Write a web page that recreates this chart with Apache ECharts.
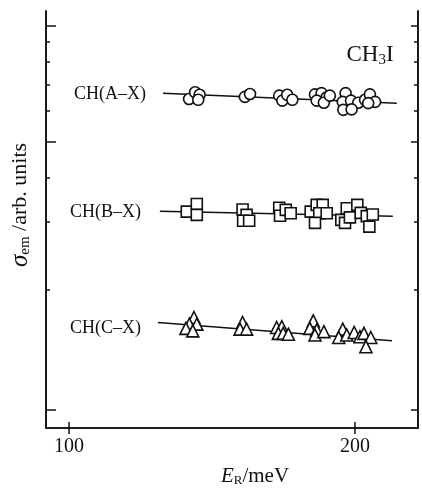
<!DOCTYPE html>
<html>
<head>
<meta charset="utf-8">
<script src="https://cdn.jsdelivr.net/npm/echarts@6/dist/echarts.min.js"></script>
<style>
  html, body { margin: 0; padding: 0; background: #fff; }
  #chart { width: 422px; height: 492px; }
</style>
</head>
<body>
<div id="chart"></div>
<script>
  // E_R (meV), sigma_em (arb. units)
  var pointsAX = [
    [142.0, 78.9], [144.1, 80.5], [145.7, 79.9], [145.2, 78.7],
    [161.5, 79.4], [163.3, 80.1],
    [173.5, 79.7], [174.6, 78.5], [176.3, 79.9], [178.1, 78.7],
    [186.0, 80.0], [188.3, 80.3], [190.1, 79.3], [186.6, 78.5], [189.1, 78.0], [191.2, 79.7],
    [196.7, 80.3], [195.7, 78.2], [198.6, 78.5], [201.1, 78.0], [203.5, 78.7],
    [195.9, 76.3], [198.8, 76.4], [205.2, 80.0], [207.0, 78.2], [204.6, 77.9]
  ];
  var pointsBX = [
    [141.2, 51.9], [144.7, 53.7], [144.7, 51.1],
    [160.7, 52.4], [162.1, 51.1], [160.9, 49.7], [163.0, 49.7],
    [173.5, 52.8], [173.8, 50.9], [175.8, 52.3], [177.5, 51.5],
    [184.5, 51.9], [186.6, 53.5], [188.7, 53.5], [187.5, 51.5], [190.1, 51.5], [186.0, 49.2],
    [195.2, 49.9], [196.5, 49.2], [197.1, 52.7], [198.2, 50.5], [200.8, 53.5],
    [202.0, 51.6], [204.1, 50.8], [206.2, 51.2], [205.0, 48.3]
  ];
  var pointsCX = [
    [143.7, 26.5], [142.1, 24.9], [144.7, 24.9], [140.9, 23.9], [143.3, 23.3],
    [160.7, 25.3], [159.8, 23.7], [162.1, 23.7],
    [172.6, 24.1], [174.4, 24.3], [173.2, 22.7], [174.9, 22.7], [176.7, 22.5],
    [185.4, 25.7], [184.2, 23.9], [186.6, 23.5], [186.0, 22.3], [189.1, 23.1],
    [195.7, 23.7], [194.3, 21.7], [197.1, 22.3], [199.7, 22.9], [201.7, 21.9],
    [203.1, 22.7], [205.5, 21.7], [203.8, 19.5]
  ];
  // straight-line fits
  var fitAX = [[132.9, 80.3], [214.6, 77.9]];
  var fitBX = [[131.8, 52.0], [213.2, 50.8]];
  var fitCX = [[131.1, 25.3], [212.9, 20.9]];

  var xTicks = [100, 200];
  var yMajorTicks = [4.3, 68.6, 96.4];
  var yMinorTicks = [33.1, 49.4, 60.0, 76.0, 82.3, 87.8, 92.6];

  var serif = '"Liberation Serif", "DejaVu Serif", serif';
  var black = '#111';

  function yAxisDef(pos, ticks, len) {
    return {
      type: 'value', position: pos, min: 0, max: 100,
      axisLine: { show: true, lineStyle: { color: black, width: 1.6 } },
      axisTick: { show: true, inside: true, length: len, customValues: ticks,
                  lineStyle: { color: black, width: 1.5 } },
      axisLabel: { show: false },
      splitLine: { show: false }
    };
  }

  function xAxisDef(pos, showLabel) {
    return {
      type: 'value', position: pos, min: 92, max: 222,
      axisLine: { show: true, lineStyle: { color: black, width: 1.6 } },
      axisTick: { show: true, inside: true, length: 6, customValues: xTicks,
                  lineStyle: { color: black, width: 1.5 } },
      axisLabel: { show: showLabel, customValues: xTicks, margin: 9,
                   color: black, fontFamily: serif, fontSize: 20 },
      splitLine: { show: false }
    };
  }

  function scatter(data, symbol, size) {
    return {
      type: 'scatter', data: data, symbol: symbol, symbolSize: size, z: 3,
      itemStyle: { color: '#fff', borderColor: black, borderWidth: 1.6, opacity: 1 }
    };
  }

  function fit(data) {
    return {
      type: 'line', data: data, symbol: 'none', z: 2,
      lineStyle: { color: black, width: 1.5 }
    };
  }

  var chart = echarts.init(document.getElementById('chart'));
  chart.setOption({
    animation: false,
    backgroundColor: '#fff',
    grid: { left: 46, right: 4, top: 11, bottom: 64 },
    xAxis: [xAxisDef('bottom', true), xAxisDef('top', false)],
    yAxis: [
      yAxisDef('left', yMinorTicks, 4),
      yAxisDef('left', yMajorTicks, 10),
      yAxisDef('right', yMinorTicks, 4),
      yAxisDef('right', yMajorTicks, 7)
    ],
    series: [
      fit(fitAX), fit(fitBX), fit(fitCX),
      scatter(pointsAX, 'circle', 11),
      scatter(pointsBX, 'rect', 11),
      scatter(pointsCX, 'triangle', 12)
    ],
    graphic: [
      { type: 'text', x: 146, y: 94,
        style: { text: 'CH(A–X)', font: '18px ' + serif, fill: black,
                 textAlign: 'right', textVerticalAlign: 'middle' } },
      { type: 'text', x: 141, y: 212,
        style: { text: 'CH(B–X)', font: '18px ' + serif, fill: black,
                 textAlign: 'right', textVerticalAlign: 'middle' } },
      { type: 'text', x: 141, y: 328,
        style: { text: 'CH(C–X)', font: '18px ' + serif, fill: black,
                 textAlign: 'right', textVerticalAlign: 'middle' } },
      { type: 'text', x: 370, y: 55,
        style: { text: '{n|CH}{s|3}{n|I}', fill: black,
                 textAlign: 'center', textVerticalAlign: 'middle',
                 rich: {
                   n: { fontFamily: serif, fontSize: 23, color: black },
                   s: { fontFamily: serif, fontSize: 15, color: black, padding: [10, 0, 0, 0] }
                 } } },
      { type: 'text', x: 255, y: 476,
        style: { text: '{i|E}{s|R}{n|/meV}', fill: black,
                 textAlign: 'center', textVerticalAlign: 'middle',
                 rich: {
                   i: { fontFamily: serif, fontSize: 21, fontStyle: 'italic', color: black },
                   s: { fontFamily: serif, fontSize: 13, color: black, padding: [10, 0, 0, 0] },
                   n: { fontFamily: serif, fontSize: 21, color: black }
                 } } },
      { type: 'text', x: 20, y: 205, rotation: Math.PI / 2,
        style: { text: '{i|σ}{s|em}{n| /arb. units}', fill: black,
                 textAlign: 'center', textVerticalAlign: 'middle',
                 rich: {
                   i: { fontFamily: serif, fontSize: 25, fontStyle: 'italic', color: black },
                   s: { fontFamily: serif, fontSize: 15, color: black, padding: [11, 0, 0, 0] },
                   n: { fontFamily: serif, fontSize: 22, color: black }
                 } } }
    ]
  });
</script>
</body>
</html>
